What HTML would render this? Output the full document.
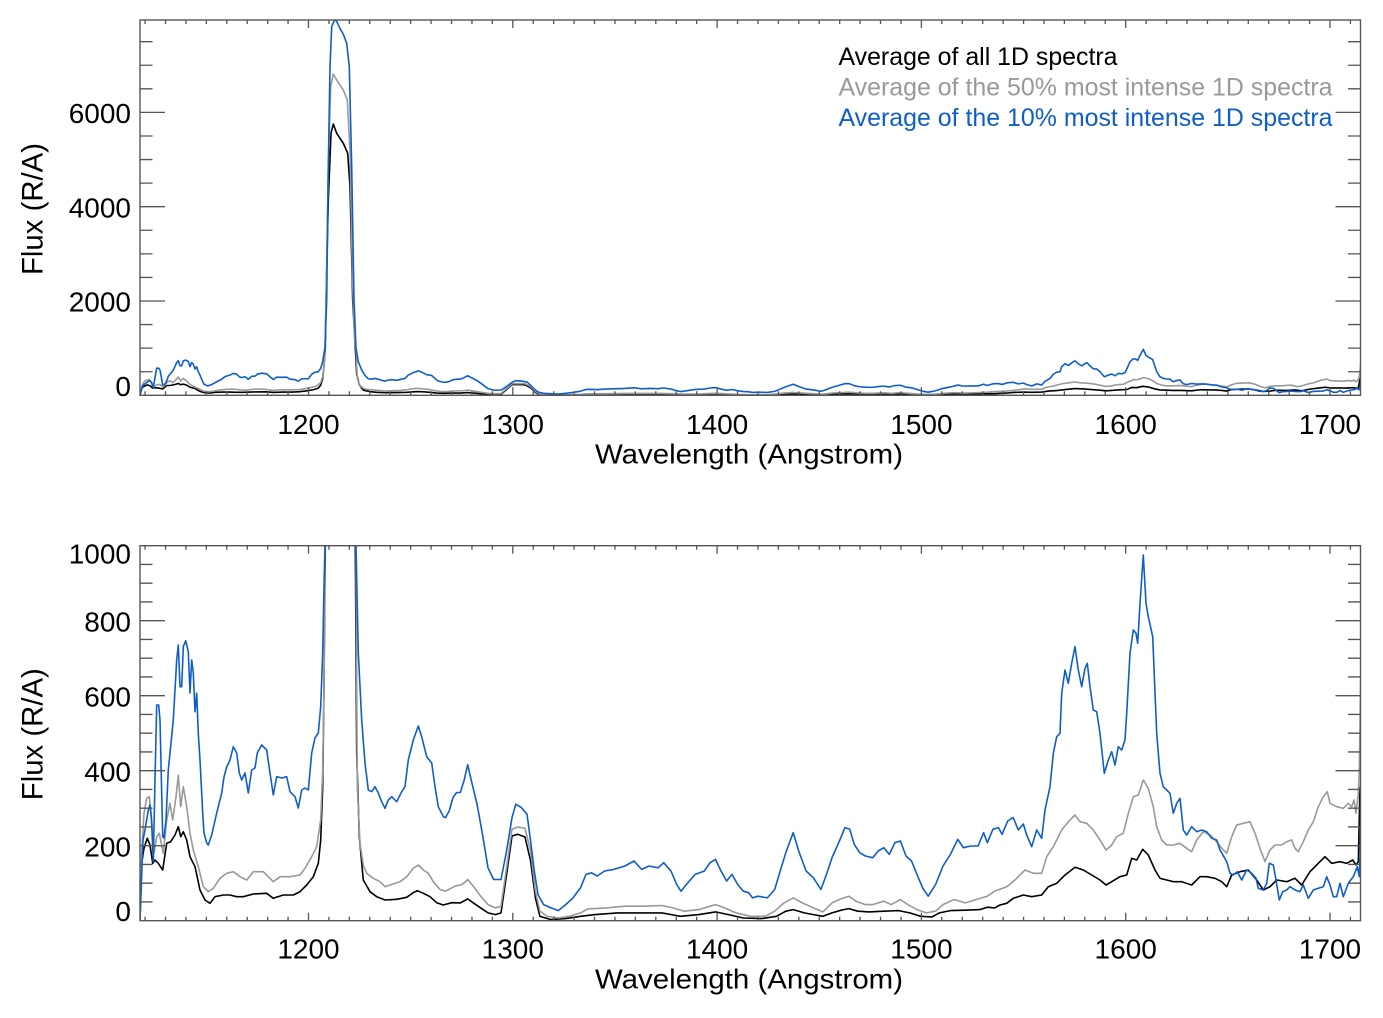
<!DOCTYPE html>
<html>
<head>
<meta charset="utf-8">
<style>
html,body{margin:0;padding:0;background:#fff;}
svg{display:block;}
text{font-family:"Liberation Sans",Arial,sans-serif;}
</style>
</head>
<body>
<svg width="1383" height="1018" viewBox="0 0 1383 1018" xmlns="http://www.w3.org/2000/svg">
<defs>
  <clipPath id="c1"><rect x="140" y="20" width="1220.5" height="375.3"/></clipPath>
  <clipPath id="c2"><rect x="140" y="545.7" width="1220.5" height="375"/></clipPath>
  <path id="xt" fill="none" stroke="#555" stroke-width="1.3" d="M145.06 0v-4M165.49 0v-4M185.92 0v-4M206.35 0v-4M226.78 0v-4M247.21 0v-4M267.64 0v-4M288.07 0v-4M328.93 0v-4M349.36 0v-4M369.79 0v-4M390.22 0v-4M410.65 0v-4M431.08 0v-4M451.51 0v-4M471.94 0v-4M492.37 0v-4M533.23 0v-4M553.66 0v-4M574.09 0v-4M594.52 0v-4M614.95 0v-4M635.38 0v-4M655.81 0v-4M676.24 0v-4M696.67 0v-4M737.53 0v-4M757.96 0v-4M778.39 0v-4M798.82 0v-4M819.25 0v-4M839.68 0v-4M860.11 0v-4M880.54 0v-4M900.97 0v-4M941.83 0v-4M962.26 0v-4M982.69 0v-4M1003.12 0v-4M1023.55 0v-4M1043.98 0v-4M1064.41 0v-4M1084.84 0v-4M1105.27 0v-4M1146.13 0v-4M1166.56 0v-4M1186.99 0v-4M1207.42 0v-4M1227.85 0v-4M1248.28 0v-4M1268.71 0v-4M1289.14 0v-4M1309.57 0v-4M1350.43 0v-4M308.5 0v-8M512.8 0v-8M717.1 0v-8M921.4 0v-8M1125.7 0v-8M1330 0v-8"/>
  <path id="yt1" fill="none" stroke="#555" stroke-width="1.3" d="M0 301h25M0 206.7h25M0 112.4h25M0 371.73h12.5M0 348.15h12.5M0 324.58h12.5M0 277.43h12.5M0 253.85h12.5M0 230.28h12.5M0 183.13h12.5M0 159.55h12.5M0 135.98h12.5M0 88.83h12.5M0 65.25h12.5M0 41.68h12.5"/>
  <path id="yt2" fill="none" stroke="#555" stroke-width="1.3" d="M0 845.7h25M0 770.7h25M0 695.7h25M0 620.7h25M0 901.95h12.5M0 883.2h12.5M0 864.45h12.5M0 826.95h12.5M0 808.2h12.5M0 789.45h12.5M0 751.95h12.5M0 733.2h12.5M0 714.45h12.5M0 676.95h12.5M0 658.2h12.5M0 639.45h12.5M0 601.95h12.5M0 583.2h12.5M0 564.45h12.5"/>

  <polyline id="pk" fill="none" stroke="#000" stroke-width="1.6" stroke-linejoin="round" vector-effect="non-scaling-stroke" points="140,920 141.7,863.3 144,848.3 147.3,838.3 150,845 152.7,863.3 155,860 158.3,863.3 162.7,870 166.7,843.3 170.7,841.7 175,835 178.3,826.7 180.7,836.7 183.3,831.7 186.7,840 190,856.7 195,866.7 200,890 205,900 210,903.3 215,896.7 223.3,895 230,895 236.7,896.7 243.3,896.7 253.3,894 266.7,893.3 273.3,898.3 283.3,895 293.3,895 300,891.7 306.7,885 313.3,876.7 318.3,863.3 320.7,840 322.7,786.7 324,686.7 325.3,545 326,163 328.3,-632 331,-1163 333.3,-1237 336.7,-1163 343.3,-1084 347.7,-1004 350,-738 352.7,163 354.5,433 355.3,545 356.7,753.3 359.3,836.7 363.3,880 370,891.7 376.7,896.7 385,900 396.7,899.3 406.7,897.3 413.3,892.7 417.3,890.7 423.3,893.3 430,896.7 436.7,902.7 443.3,905 451.7,902.7 460.3,902.9 467.7,898.9 473.3,902.9 480.7,907.9 488,912.9 495.5,914.6 501,912.9 506.6,874.4 512,836 517.7,834.3 525,837 530.6,861 535.4,897.9 539.9,916.3 551,919.6 565.7,918.6 580.5,916.3 595.3,914.6 617.5,912.9 639.7,912.9 661.9,912.9 680.4,916.3 698.9,914.6 715.5,911.9 728.5,914.6 743.3,918 761.7,918.6 776.5,916.3 785.8,911.2 793.2,909.6 804.3,912.9 813.5,914.6 822.8,916.3 832,912.9 841.2,910.2 848.7,908.6 857.9,911.2 869,911.9 883.8,911.2 898.6,910.6 909.7,912.9 920.8,916.3 931.9,916.9 939.3,912.9 950.4,910.6 965.2,910.2 980,909.6 987.3,907.2 994.7,907.9 1000,905 1006.7,903.3 1013.3,898.3 1023.3,895 1031.7,896.7 1041.7,895 1048.3,886.7 1056.7,883.3 1065,875 1075,867.3 1083.3,870 1091.7,875 1100,880 1106,885 1111.7,881.7 1120,876.7 1126.7,875 1131.7,858.3 1136.7,860 1142.7,849.3 1148.3,855 1155,870 1160,878.3 1166.7,880 1173.3,881.7 1181.7,881.7 1191.7,885 1200,876.7 1206.7,876.7 1215,878.3 1221.7,881.7 1226.7,886.7 1231.7,875 1240,871.7 1248.3,870 1256.7,880 1263.3,890 1270,886.7 1276.7,880 1286.7,881.7 1295,878.3 1301.7,885 1310,871.7 1318.3,863.3 1325,856.7 1331.7,863.3 1340,861.7 1346.7,863.3 1352.7,860 1356,865 1358.3,861.7 1360,786.7"/>

  <polyline id="pg" fill="none" stroke="#999" stroke-width="1.6" stroke-linejoin="round" vector-effect="non-scaling-stroke" points="140,920 141.7,853 144,813.3 146.7,798.3 149.3,796.7 151.7,820 154,853.3 156.7,836.7 159.3,833.3 163.3,853.3 166.7,820 170,803.3 172.7,820 176,796.7 178.3,775 180.7,806.7 183.3,786.7 186.7,806.7 190,833.3 193.3,850 198.3,866.7 203.3,886.7 208.3,891.7 213.3,888.3 220,878.3 226.7,873.3 233.3,871.7 240,876.7 246.7,880 253.3,871.7 263.3,871.7 273.3,881.7 280,876.7 290,876.7 300,875 305,868.3 311.7,856.7 316.7,846.7 320.7,820 322.7,770 324,686.7 325,553 326,163 328.3,-898 330.7,-1534 333.3,-1634.5 336.7,-1587 343.3,-1507 347.3,-1428 350,-1030 352.5,-17 354.5,470.7 356,553.3 357.3,786.7 360,843.3 363.3,865 366.7,873.3 373.3,878.3 380,881.7 385,886.7 390,885 400,881.7 406.7,876.7 413.3,868.3 418.3,865 423.3,870 428.3,873.3 433.3,881.7 440,889.5 445.5,891.2 454.8,886.2 462.2,884.5 467.7,879.5 473.3,886.2 480.7,896.2 488,904.6 495.5,907.9 501,906.2 506.6,867.8 512,829.3 517.7,827 525,828.3 530.6,851 535.4,891.2 539.9,911.2 547.2,916.3 558.3,917.9 569.4,916.3 580.5,912.9 587.9,908.9 606.4,907.9 625,906.2 643.4,906.2 661.9,905.5 673,907.9 684,911.2 698.9,909.6 710,906.2 715.5,904.6 724.8,907.9 735.9,912.9 750.7,916.3 765.4,916.3 774.7,911.2 784,902.9 793.2,897.9 802.4,902.9 813.5,907.9 822.8,911.9 832,902.9 839.4,899.5 848.7,896.2 856,901.2 865.3,904.6 872.7,904.6 883.8,901.2 891.2,904.6 900.4,899.5 907.8,904.6 917,909.6 926.3,912.9 935.6,911.2 943,904.6 954.1,899.5 965.2,902.9 976.3,899.5 987.3,896.2 994.7,891.2 1006.7,886.7 1015,880 1025,870 1033.3,873.3 1041.7,873.3 1046.7,856.7 1053.3,846.7 1061.7,830 1068.3,821.7 1075,815 1080,821.7 1086.7,823.3 1093.3,830 1100,840 1106,850 1111.7,845 1116.7,836.7 1123.3,833.3 1128.3,813.3 1133.3,796.7 1138.3,795 1143.3,780 1148.3,788.3 1153.3,806.7 1156.7,826.7 1161.7,840 1166.7,845 1173.3,845 1180,843.3 1186.7,848.3 1191.7,851.7 1196.7,840 1203.3,831.7 1210,835 1216.7,841.7 1221.7,848.3 1226.7,853.3 1231.7,836.7 1236.7,825 1243.3,823.3 1250,821.7 1255,833.3 1260,848.3 1265,861.7 1270,850 1275,845 1281.7,845 1286.7,841.7 1291.7,840 1295,848.3 1298.3,851.7 1303.3,841.7 1308.3,830 1313.3,821.7 1318.3,806.7 1323.3,796.7 1327.3,791.7 1330,803.3 1336.7,806.7 1343.3,808.3 1348.3,803.3 1351.7,806.7 1354,800 1356,813.3 1358.3,793.3 1359.3,770 1360.7,680"/>

  <polyline id="pb" fill="none" stroke="#0f5ec8" stroke-width="1.6" stroke-linejoin="round" vector-effect="non-scaling-stroke" points="140,920 141.5,880 143,840 145,830 148.3,810 150,805 151.5,820 153.3,861.7 155,780 156.7,705 158.7,705 160,720 162.7,836.7 164,838 166,820 168.3,770 170,753 173.3,720 176.7,660 178.3,645 180,686.7 181.7,686.7 183.3,646.7 185.7,640.7 188.3,651.7 190,693 191.7,660 193.3,673 195,711.7 196.7,693.3 198.3,733 200,760 202.7,813 204,833 206.7,843 208.3,845 211.7,835 216.7,813 221.7,793 224,777 226.7,767 230,760 233.3,746.7 236.7,753 239.3,773 241.7,780 245,773 248.3,793 251.7,770 255,768 257.3,753 261.7,745 266.7,750 270,773 273.3,795 276.7,776.7 281.7,778 286.7,776.7 290,791.7 295,796.7 298.3,808 301.7,790 305,788 308.3,790 311.7,753 315,738 318.3,733 320.7,706.7 322.7,653 324,586.7 325,545 326.7,163 328.3,-898 330,-1693 331.7,-2012 334.3,-2059 336,-2064 340,-1997 343.5,-1948 346.7,-1879 349.3,-1693 351.7,-898 354,163 356,545.7 358.3,653 361.7,720 365,763 368.3,790 371.7,791.7 375,786.7 378.3,793 381.7,801.7 385,808.3 388.3,800 391.7,796.7 396.7,801.7 401.7,791.7 405,786.7 408.3,760 413.3,740 418.3,726 421.7,736.7 426.7,756.7 431.7,763 435,786.7 438.3,806.7 443.3,816.7 445.5,817.6 449.2,811 453,797.5 456.6,792.5 460.3,792.5 464,780.8 467.7,764.7 471.4,780.8 477,804 482.5,834.3 488,867.8 493.6,879.5 501,879.5 506.6,851 512,817.6 515.8,804.2 521.4,807.6 527,814.2 530.6,841 534.3,871 538,894.5 543.5,904.6 551,907.9 558.3,910.6 565.7,904.6 573,897.9 580.5,887.8 586,874.4 591.6,872.8 597.2,876 604.6,871 613.8,869.4 625,866 634,861 641.6,869.4 649,866 658.2,867.8 663.7,862.7 671,871 676.7,884.5 681,891.2 687.8,882.8 695.2,874.4 704.4,871 710,862.7 715.5,859.4 721,871 726.6,881 732,874.4 737.7,884.5 743.3,891.2 748.8,892.8 752.5,897.9 758,896.2 767.3,897.9 774.7,889.5 780.2,871 785.8,852.7 793.2,832.6 798.7,851 806.1,871 813.5,877.8 820.9,889.5 826.5,874.4 832,857.7 839.4,841 845,827.6 849.8,829.3 854.2,844.3 859.7,852.7 865.3,856 872.7,857.7 878.2,851 883.8,847.7 889.3,854.4 894.9,842.7 900.4,841 906,856 911.5,861 917,874.4 922.6,887.8 928.2,896.2 935.6,884.5 943,866 950.4,854.4 957.8,839.3 963.3,847.7 970.7,846 978.1,846 983.6,832.6 987.3,842.7 992.9,829.3 998.4,827.6 1002.1,834.3 1007.7,821 1013.2,817.6 1018.3,830 1023.3,824 1026.7,835 1031.7,846.7 1036.7,830 1041.7,838.3 1045,810 1050,786.7 1053.3,753.3 1056.7,736.7 1060,733.3 1061.7,693.3 1065,670 1068.3,683.3 1071.7,663.3 1075,646.7 1078.3,670 1081.7,686.7 1085,668.3 1087.3,663.3 1090,686.7 1093.3,710 1096.7,711.7 1100,733.3 1104.3,773.3 1108.3,760 1111.7,751.7 1115,765 1118.3,746.7 1121.7,750 1125,740 1126.7,713.3 1130,653.3 1133.3,630 1136,633.3 1137.7,643.3 1140,603.3 1143.3,555 1146,603.3 1148.3,616.7 1152.7,636.7 1156.7,733.3 1160,773.3 1163.3,786.7 1166.7,790 1170,793.3 1173.3,813.3 1176.7,803.3 1180,798.3 1183.3,830 1186.7,835 1191.7,826.7 1196.7,831.7 1201.7,830 1206.7,831.7 1211.7,838.3 1216.7,840 1220,850 1226.7,861.7 1230,873.3 1233.3,875 1237.3,871.7 1241.7,880 1246.7,870 1251.7,873.3 1256,878.3 1258.3,888.3 1263.3,890 1266.7,883.3 1269.3,863.3 1273.3,865 1276,880 1279.3,900 1282.7,891.7 1286.7,890 1290,886.7 1295,890 1300,891.7 1303.3,885 1308.3,898.3 1313.3,890 1318.3,888.3 1323.3,886.7 1326.7,876.7 1330,885 1333.3,896.7 1336.7,896.7 1340,883.3 1343.3,896.7 1348.3,883.3 1353.3,876.7 1357.3,866.7 1359.3,876.7 1360.7,833.3"/>
</defs>

<!-- ===== TOP PANEL ===== -->
<g clip-path="url(#c1)">
  <g transform="matrix(1 0 0 0.12573 0 279.54)">
    <use href="#pk"/>
    <use href="#pg"/>
    <use href="#pb"/>
  </g>
</g>
<rect x="140" y="20" width="1220.5" height="375.3" fill="none" stroke="#555" stroke-width="1.4"/>
<use href="#xt" transform="translate(0,395.3)"/>
<use href="#xt" transform="translate(0,20) scale(1,-1)"/>
<use href="#yt1" transform="translate(140,0)"/>
<use href="#yt1" transform="translate(1360.5,0) scale(-1,1)"/>

<g font-size="28" fill="#000" text-anchor="end">
  <text x="131" y="396">0</text>
  <text x="131" y="311.5">2000</text>
  <text x="131" y="217.5">4000</text>
  <text x="131" y="123">6000</text>
</g>
<g font-size="28" fill="#000" text-anchor="middle">
  <text x="308.5" y="434">1200</text>
  <text x="512.8" y="434">1300</text>
  <text x="717.1" y="434">1400</text>
  <text x="921.4" y="434">1500</text>
  <text x="1125.7" y="434">1600</text>
  <text x="1330" y="434">1700</text>
</g>
<text x="749" y="463.5" font-size="28" text-anchor="middle" textLength="308" lengthAdjust="spacingAndGlyphs">Wavelength (Angstrom)</text>
<text transform="translate(42.7,209) rotate(-90)" font-size="29.5" text-anchor="middle" textLength="132" lengthAdjust="spacingAndGlyphs">Flux (R/A)</text>

<g font-size="24.6">
  <text x="838.5" y="65" fill="#000" textLength="279" lengthAdjust="spacingAndGlyphs">Average of all 1D spectra</text>
  <text x="838.5" y="95.5" fill="#999" textLength="494" lengthAdjust="spacingAndGlyphs">Average of the 50% most intense 1D spectra</text>
  <text x="838.5" y="126" fill="#0f5ec8" textLength="494" lengthAdjust="spacingAndGlyphs">Average of the 10% most intense 1D spectra</text>
</g>

<!-- ===== BOTTOM PANEL ===== -->
<g clip-path="url(#c2)">
  <use href="#pk"/>
  <use href="#pg"/>
  <use href="#pb"/>
</g>
<rect x="140" y="545.7" width="1220.5" height="375" fill="none" stroke="#555" stroke-width="1.4"/>
<use href="#xt" transform="translate(0,920.7)"/>
<use href="#xt" transform="translate(0,545.7) scale(1,-1)"/>
<use href="#yt2" transform="translate(140,0)"/>
<use href="#yt2" transform="translate(1360.5,0) scale(-1,1)"/>

<g font-size="28" fill="#000" text-anchor="end">
  <text x="131" y="921">0</text>
  <text x="131" y="856.7">200</text>
  <text x="131" y="781.7">400</text>
  <text x="131" y="706.7">600</text>
  <text x="131" y="631.5">800</text>
  <text x="131" y="563.5">1000</text>
</g>
<g font-size="28" fill="#000" text-anchor="middle">
  <text x="308.5" y="958.5">1200</text>
  <text x="512.8" y="958.5">1300</text>
  <text x="717.1" y="958.5">1400</text>
  <text x="921.4" y="958.5">1500</text>
  <text x="1125.7" y="958.5">1600</text>
  <text x="1330" y="958.5">1700</text>
</g>
<text x="749" y="988.5" font-size="28" text-anchor="middle" textLength="308" lengthAdjust="spacingAndGlyphs">Wavelength (Angstrom)</text>
<text transform="translate(42.7,734.2) rotate(-90)" font-size="29.5" text-anchor="middle" textLength="132" lengthAdjust="spacingAndGlyphs">Flux (R/A)</text>
</svg>
</body>
</html>
